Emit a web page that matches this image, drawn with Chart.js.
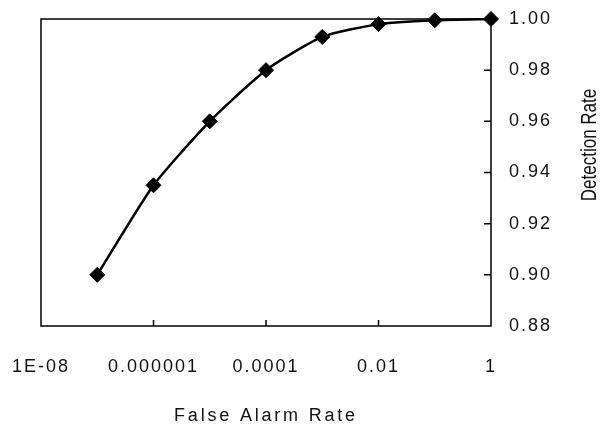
<!DOCTYPE html>
<html>
<head>
<meta charset="utf-8">
<script src="https://cdn.jsdelivr.net/npm/chart.js@4.4.1/dist/chart.umd.min.js"></script>
<style>
  html, body { margin: 0; padding: 0; background: #fff; }
  #wrap { width: 604px; height: 434px; }
</style>
</head>
<body>
<div id="wrap"><canvas id="roc"></canvas></div>
<script>
/******************* data *******************/
const falseAlarm = [1e-7, 1e-6, 1e-5, 1e-4, 1e-3, 1e-2, 1e-1, 1];
const detection = [0.900, 0.935, 0.960, 0.980, 0.993, 0.998, 0.9995, 1.000];
const xTickVals = [1e-8, 1e-6, 1e-4, 1e-2, 1];
const xTickLabels = ['1E-08', '0.000001', '0.0001', '0.01', '1'];
const yTickVals = [0.88, 0.90, 0.92, 0.94, 0.96, 0.98, 1.00];
const yTickLabels = ['0.88', '0.90', '0.92', '0.94', '0.96', '0.98', '1.00'];
const xTitle = 'False Alarm Rate';
const yTitle = 'Detection Rate';

const FONT = "'Liberation Sans', Arial, sans-serif";
const SPACING = '2px';

// box, inner tick marks and axis titles
const boxPlugin = {
    id: 'box',
    beforeLayout(chart) { chart.ctx.letterSpacing = SPACING; },
    beforeDraw(chart) { chart.ctx.letterSpacing = SPACING; },
    afterDraw(chart) {
        const ctx = chart.ctx;
        const a = chart.chartArea;
        const xs = chart.scales.x, ys = chart.scales.y;
        ctx.save();
        ctx.strokeStyle = '#000';
        ctx.lineWidth = 1.5;
        ctx.strokeRect(a.left, a.top, a.right - a.left, a.bottom - a.top);
        ctx.beginPath();
        xTickVals.slice(1, -1).forEach(v => {
            let px = xs.getPixelForValue(v);
            ctx.moveTo(px, a.bottom);
            ctx.lineTo(px, a.bottom - 6);
        });
        yTickVals.slice(1, -1).forEach(v => {
            let py = ys.getPixelForValue(v);
            ctx.moveTo(a.right, py);
            ctx.lineTo(a.right - 7, py);
        });
        ctx.stroke();

        ctx.fillStyle = '#111';
        ctx.font = '18px ' + FONT;
        ctx.letterSpacing = '2.8px';
        ctx.textAlign = 'center';
        ctx.textBaseline = 'middle';
        ctx.fillText(xTitle, 266, 416);
        // rotated title, stretched like the original scan
        ctx.font = '17px ' + FONT;
        ctx.letterSpacing = '0px';
        ctx.translate(590, 145);
        ctx.rotate(-Math.PI / 2);
        ctx.scale(1, 1.3);
        ctx.fillText(yTitle, 0, 0);
        ctx.restore();
    }
};

const ctx = document.getElementById('roc');
const graph = new Chart(ctx, {
    type: 'line',
    data: {
        datasets: [{
            data: falseAlarm.map((x, i) => ({ x: x, y: detection[i] })),
            borderColor: '#000',
            backgroundColor: '#000',
            borderWidth: 2.5,
            tension: 0.2,
            pointStyle: 'rectRot',
            pointRadius: 7.5,
            pointBorderWidth: 1,
            clip: false
        }]
    },
    options: {
        responsive: true,
        maintainAspectRatio: false,
        animation: false,
        devicePixelRatio: 1,
        layout: { padding: { left: 41, top: 19, right: 0, bottom: 0 } },
        plugins: { legend: { display: false }, tooltip: { enabled: false } },
        scales: {
            x: {
                type: 'logarithmic',
                min: 1e-8,
                max: 1,
                afterBuildTicks: s => { s.ticks = xTickVals.map(v => ({ value: v })); },
                afterFit: s => { s.height = 108; s.paddingLeft = 0; s.paddingRight = 0; },
                grid: { display: false, drawTicks: false },
                border: { display: false },
                ticks: {
                    autoSkip: false,
                    maxRotation: 0,
                    padding: 30,
                    color: '#111',
                    font: { family: FONT, size: 18 },
                    callback: (v, i) => xTickLabels[i]
                }
            },
            y: {
                position: 'right',
                min: 0.88,
                max: 1.0,
                afterBuildTicks: s => { s.ticks = yTickVals.map(v => ({ value: v })); },
                afterFit: s => { s.width = 113; s.paddingTop = 0; s.paddingBottom = 0; },
                grid: { display: false, drawTicks: false },
                border: { display: false },
                ticks: {
                    padding: 18,
                    color: '#111',
                    font: { family: FONT, size: 18 },
                    callback: (v, i) => yTickLabels[i]
                }
            }
        }
    },
    plugins: [boxPlugin]
});
</script>
</body>
</html>
